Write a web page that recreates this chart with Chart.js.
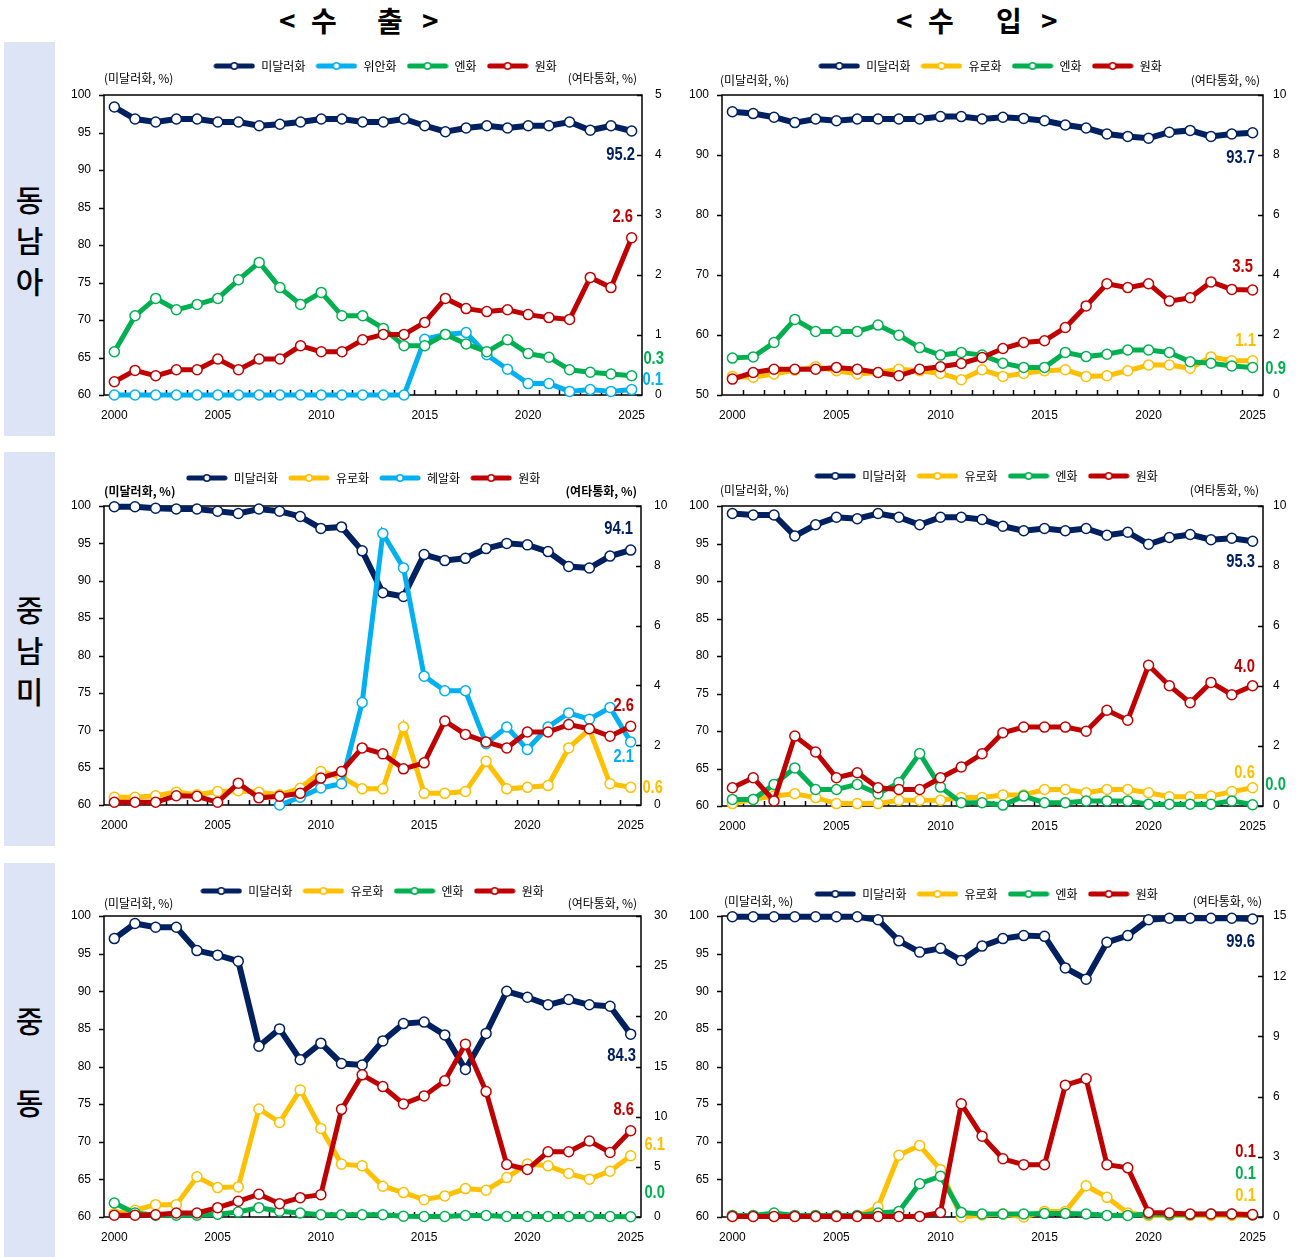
<!DOCTYPE html>
<html>
<head>
<meta charset="utf-8">
<script src="https://cdn.jsdelivr.net/npm/chart.js@4.4.1/dist/chart.umd.min.js"></script>
<style>
  body { margin: 0; width: 1302px; height: 1257px; background: #fff; position: relative; overflow: hidden; }
  .hd { position: absolute; top: 2px; font: bold 28px 'Noto Sans CJK KR', sans-serif; line-height: 36px; color: #000; }
  .side { position: absolute; left: 4px; width: 51px; background: #dde4f5; display: flex; align-items: center; justify-content: center;
          font: 500 30px 'Noto Sans CJK KR', sans-serif; line-height: 41px; text-align: center; color: #000; }
  canvas { position: absolute; }
</style>
</head>
<body>
<span class="hd" style="left:279px">&lt;</span>
<span class="hd" style="left:311px">수</span>
<span class="hd" style="left:377px">출</span>
<span class="hd" style="left:422px">&gt;</span>
<span class="hd" style="left:896px">&lt;</span>
<span class="hd" style="left:928px">수</span>
<span class="hd" style="left:996px">입</span>
<span class="hd" style="left:1041px">&gt;</span>

<div class="side" style="top:42px;height:394px"><div>동<br>남<br>아</div></div>
<div class="side" style="top:452px;height:394px"><div>중<br>남<br>미</div></div>
<div class="side" style="top:863px;height:394px"><div>중<br><br>동</div></div>

<canvas id="c1" width="610" height="390" style="left:60px;top:45px"></canvas>
<canvas id="c2" width="620" height="390" style="left:680px;top:45px"></canvas>
<canvas id="c3" width="610" height="390" style="left:60px;top:456px"></canvas>
<canvas id="c4" width="620" height="390" style="left:680px;top:456px"></canvas>
<canvas id="c5" width="610" height="390" style="left:60px;top:866px"></canvas>
<canvas id="c6" width="620" height="390" style="left:680px;top:866px"></canvas>

<script>
const years = [2000, 2001, 2002, 2003, 2004, 2005, 2006, 2007, 2008, 2009, 2010, 2011, 2012,
  2013, 2014, 2015, 2016, 2017, 2018, 2019, 2020, 2021, 2022, 2023, 2024, 2025];

// 동남아 수출
const seaExpUsd = [98.4, 96.8, 96.4, 96.8, 96.8, 96.4, 96.4, 95.9, 96.1, 96.4, 96.8, 96.8, 96.4, 96.4, 96.8, 95.9, 95.1, 95.6, 95.9, 95.6, 95.9, 95.9, 96.4, 95.3, 95.9, 95.2];
const seaExpCny = [0, 0, 0, 0, 0, 0, 0, 0, 0, 0, 0, 0, 0, 0, 0, 0.93, 1.01, 1.04, 0.67, 0.43, 0.19, 0.19, 0.06, 0.09, 0.06, 0.09];
const seaExpJpy = [0.72, 1.32, 1.61, 1.42, 1.51, 1.61, 1.92, 2.21, 1.79, 1.51, 1.71, 1.32, 1.32, 1.11, 0.82, 0.82, 1.01, 0.85, 0.72, 0.92, 0.69, 0.63, 0.42, 0.38, 0.35, 0.32];
const seaExpKrw = [0.22, 0.41, 0.32, 0.42, 0.42, 0.60, 0.42, 0.60, 0.60, 0.82, 0.72, 0.72, 0.92, 1.01, 1.01, 1.21, 1.61, 1.44, 1.39, 1.42, 1.34, 1.29, 1.26, 1.96, 1.79, 2.62];

// 동남아 수입
const seaImpUsd = [97.2, 96.9, 96.3, 95.4, 96.0, 95.7, 96.0, 96.0, 96.0, 96.0, 96.4, 96.4, 96.0, 96.3, 96.1, 95.7, 95.0, 94.5, 93.5, 93.1, 92.8, 93.8, 94.1, 93.1, 93.5, 93.7];
const seaImpEur = [0.62, 0.59, 0.70, 0.83, 0.94, 0.81, 0.70, 0.75, 0.86, 0.81, 0.72, 0.51, 0.84, 0.62, 0.72, 0.81, 0.84, 0.62, 0.64, 0.81, 1.00, 1.00, 0.89, 1.27, 1.14, 1.14];
const seaImpJpy = [1.23, 1.27, 1.75, 2.52, 2.12, 2.12, 2.12, 2.33, 1.99, 1.58, 1.33, 1.42, 1.33, 1.06, 0.92, 0.92, 1.42, 1.28, 1.36, 1.50, 1.50, 1.42, 1.11, 1.06, 0.97, 0.92];
const seaImpKrw = [0.53, 0.75, 0.86, 0.86, 0.86, 0.92, 0.86, 0.75, 0.64, 0.86, 0.94, 1.05, 1.25, 1.55, 1.75, 1.81, 2.25, 2.97, 3.71, 3.58, 3.71, 3.13, 3.24, 3.77, 3.52, 3.50];

// 중남미 수출
const latExpUsd = [99.9, 99.9, 99.7, 99.6, 99.6, 99.3, 99.0, 99.6, 99.3, 98.6, 97.0, 97.2, 94.0, 88.4, 87.9, 93.5, 92.7, 93.0, 94.3, 95.0, 94.8, 93.9, 91.9, 91.7, 93.3, 94.1];
const latExpEur = [0.26, 0.26, 0.31, 0.43, 0.34, 0.45, 0.48, 0.43, 0.34, 0.56, 1.12, 0.93, 0.54, 0.54, 2.61, 0.39, 0.39, 0.45, 1.46, 0.54, 0.59, 0.65, 1.91, 2.53, 0.71, 0.59];
const latExpBrl = [null, null, null, null, null, null, null, null, 0.0, 0.26, 0.57, 0.71, 3.43, 9.08, 7.93, 4.31, 3.82, 3.82, 2.05, 2.61, 1.86, 2.61, 3.08, 2.87, 3.26, 2.11];
const latExpKrw = [0.09, 0.09, 0.09, 0.31, 0.29, 0.09, 0.73, 0.24, 0.29, 0.39, 0.90, 1.12, 1.91, 1.71, 1.21, 1.41, 2.81, 2.36, 2.11, 1.91, 2.44, 2.44, 2.69, 2.55, 2.30, 2.63];

// 중남미 수입
const latImpUsd = [99.0, 98.8, 98.8, 96.0, 97.5, 98.5, 98.3, 99.0, 98.5, 97.5, 98.5, 98.5, 98.2, 97.3, 96.7, 97.0, 96.7, 97.0, 96.1, 96.5, 94.9, 95.8, 96.2, 95.5, 95.7, 95.3];
const latImpEur = [0.08, 0.22, 0.33, 0.41, 0.28, 0.08, 0.08, 0.08, 0.19, 0.19, 0.19, 0.28, 0.28, 0.37, 0.37, 0.55, 0.55, 0.44, 0.55, 0.55, 0.44, 0.31, 0.31, 0.33, 0.48, 0.61];
const latImpJpy = [0.22, 0.22, 0.72, 1.27, 0.55, 0.55, 0.72, 0.41, 0.78, 1.75, 0.63, 0.11, 0.11, 0.03, 0.33, 0.11, 0.11, 0.17, 0.17, 0.17, 0.06, 0.06, 0.06, 0.06, 0.17, 0.04];
const latImpKrw = [0.61, 0.94, 0.17, 2.33, 1.80, 0.94, 1.11, 0.61, 0.55, 0.55, 0.94, 1.30, 1.74, 2.44, 2.63, 2.63, 2.63, 2.49, 3.19, 2.86, 4.69, 4.01, 3.44, 4.12, 3.71, 4.01];

// 중동 수출
const meExpUsd = [97.0, 99.0, 98.5, 98.5, 95.4, 94.8, 94.0, 82.7, 85.0, 80.9, 83.1, 80.4, 80.2, 83.4, 85.7, 85.9, 84.2, 79.6, 84.4, 90.0, 89.2, 88.2, 88.9, 88.2, 88.0, 84.3];
const meExpEur = [0.33, 0.67, 1.23, 1.23, 4.0, 2.93, 3.0, 10.77, 9.43, 12.67, 8.83, 5.27, 5.1, 3.07, 2.43, 1.73, 2.1, 2.83, 2.67, 3.93, 5.27, 5.1, 4.33, 3.77, 4.57, 6.1];
const meExpJpy = [1.4, 0.4, 0.17, 0.17, 0.17, 0.27, 0.5, 0.93, 0.57, 0.4, 0.23, 0.23, 0.23, 0.23, 0.07, 0.05, 0.05, 0.15, 0.15, 0.05, 0.05, 0.05, 0.05, 0.05, 0.05, 0.03];
const meExpKrw = [0.17, 0.17, 0.23, 0.4, 0.4, 0.93, 1.57, 2.27, 1.33, 1.93, 2.23, 10.73, 14.17, 13.0, 11.27, 12.07, 13.57, 17.23, 12.5, 5.23, 4.73, 6.5, 6.5, 7.57, 6.43, 8.6];

// 중동 수입
const meImpUsd = [99.9, 99.9, 99.9, 99.9, 99.9, 99.9, 99.9, 99.5, 96.7, 95.2, 95.7, 94.1, 96.0, 97.0, 97.4, 97.3, 93.1, 91.6, 96.5, 97.4, 99.5, 99.7, 99.7, 99.7, 99.7, 99.6];
const meImpEur = [0.03, 0.03, 0.03, 0.03, 0.03, 0.03, 0.03, 0.5, 3.08, 3.56, 2.36, 0.0, 0.1, 0.15, 0.0, 0.28, 0.28, 1.56, 0.98, 0.2, 0.08, 0.08, 0.08, 0.08, 0.08, 0.1];
const meImpJpy = [0.08, 0.08, 0.2, 0.08, 0.08, 0.08, 0.08, 0.2, 0.28, 1.66, 2.03, 0.23, 0.15, 0.15, 0.15, 0.17, 0.17, 0.15, 0.08, 0.08, 0.15, 0.12, 0.12, 0.15, 0.15, 0.1];
const meImpKrw = [0.03, 0.03, 0.03, 0.03, 0.03, 0.03, 0.03, 0.03, 0.03, 0.03, 0.23, 5.64, 4.03, 2.9, 2.61, 2.61, 6.57, 6.89, 2.61, 2.45, 0.23, 0.2, 0.15, 0.15, 0.15, 0.12];

const NAVY = '#002060', SKY = '#00b0f0', GREEN = '#00b050', RED = '#c00000', GOLD = '#ffc000';
const TICK_FONT = "'Liberation Sans', sans-serif";
const KR_FONT = "'Noto Sans CJK KR', sans-serif";

function legendIcon(color) {
  const c = document.createElement('canvas');
  c.width = 42; c.height = 12;
  const g = c.getContext('2d');
  g.strokeStyle = color; g.lineWidth = 5; g.lineCap = 'round';
  g.beginPath(); g.moveTo(3, 6); g.lineTo(39, 6); g.stroke();
  g.fillStyle = '#fff'; g.lineWidth = 1.5;
  g.beginPath(); g.arc(21, 6, 3.2, 0, Math.PI * 2); g.fill(); g.stroke();
  return c;
}

// inward x ticks, y ticks, frame, unit captions and end labels
const decor = {
  id: 'decor',
  afterLayout(chart, args, o) {
    chart.legend.left += o.legendDx;
    chart.legend.right += o.legendDx;
  },
  beforeDatasetsDraw(chart, args, o) {
    const { ctx, chartArea: a, scales } = chart;
    ctx.save();
    ctx.strokeStyle = '#000';
    ctx.lineWidth = 1.5;
    ctx.strokeRect(a.left, a.top, a.right - a.left, a.bottom - a.top);
    ctx.beginPath();
    for (let i = 0; i < years.length - 1; i++) {
      const px = Math.round((scales.x.getPixelForValue(i) + scales.x.getPixelForValue(i + 1)) / 2) + 0.5;
      ctx.moveTo(px, a.bottom); ctx.lineTo(px, a.bottom - 5);
    }
    scales.y.ticks.forEach(t => {
      const py = Math.round(scales.y.getPixelForValue(t.value)) + 0.5;
      ctx.moveTo(a.left, py); ctx.lineTo(a.left - 5, py);
    });
    scales.y1.ticks.forEach(t => {
      const py = Math.round(scales.y1.getPixelForValue(t.value)) + 0.5;
      ctx.moveTo(a.right, py); ctx.lineTo(a.right - 5, py);
    });
    ctx.stroke();
    ctx.fillStyle = '#000';
    ctx.font = (o.boldUnits ? 'bold ' : '') + '12px ' + KR_FONT;
    ctx.textBaseline = 'middle';
    ctx.textAlign = 'left';
    ctx.fillText('(미달러화, %)', a.left + o.unitDx[0], a.top + o.unitDy);
    ctx.textAlign = 'right';
    ctx.fillText('(여타통화, %)', a.right + o.unitDx[1], a.top + o.unitDy);
    ctx.restore();
  },
  afterDraw(chart, args, o) {
    const { ctx } = chart;
    chart.data.datasets.forEach((ds, i) => {
      const pts = chart.getDatasetMeta(i).data;
      const last = pts[pts.length - 1];
      const v = ds.data[ds.data.length - 1];
      ctx.save();
      ctx.translate(last.x + o.labelPos[i][0], last.y + o.labelPos[i][1]);
      ctx.scale(0.82, 1);
      ctx.font = 'bold 18px ' + TICK_FONT;
      ctx.textAlign = 'center';
      ctx.textBaseline = 'middle';
      ctx.fillStyle = ds.borderColor;
      ctx.fillText(v.toFixed(1), 0, 0);
      ctx.restore();
    });
  }
};

function makeChart(id, p) {
  const canvas = document.getElementById(id);
  const series = p.series.map((s, i) => ({
    label: s.name,
    data: s.data,
    yAxisID: i === 0 ? 'y' : 'y1',
    borderColor: s.color,
    backgroundColor: '#fff',
    borderWidth: i === 0 ? 6 : 5,
    pointRadius: 5,
    pointBorderWidth: 1.5,
    pointBackgroundColor: '#fff',
    pointBorderColor: s.color,
    tension: 0,
    clip: false,
    order: 3 - i
  }));
  const icons = p.series.map(s => legendIcon(s.color));
  const legendH = p.plotTop - p.canvasTop - p.padTop;
  new Chart(canvas, {
    type: 'line',
    data: { labels: years.map(String), datasets: series },
    plugins: [decor, {
      id: 'legendFit',
      beforeInit(chart) {
        const fit = chart.legend.fit;
        chart.legend.fit = function () { fit.call(this); this.height = legendH; };
      }
    }],
    options: {
      responsive: false,
      animation: false,
      devicePixelRatio: 1,
      layout: { padding: { top: p.padTop, left: 0, right: 0, bottom: 0 } },
      scales: {
        x: {
          offset: true,
          grid: { display: false, drawTicks: false },
          border: { display: false },
          ticks: {
            autoSkip: false, maxRotation: 0, padding: 13, color: '#000',
            font: { family: TICK_FONT, size: 12 },
            callback: (v, i) => (years[i] % 5 === 0 ? years[i] : '')
          },
          afterFit: s => { s.height = p.canvasTop + 390 - p.plotBottom; }
        },
        y: {
          position: 'left', min: p.left[0], max: p.left[1],
          grid: { display: false, drawTicks: false },
          border: { display: false },
          ticks: { stepSize: p.left[2], padding: 13, color: '#000', font: { family: TICK_FONT, size: 12 } },
          afterFit: s => { s.width = p.plotLeft - p.canvasLeft; }
        },
        y1: {
          position: 'right', min: p.right[0], max: p.right[1],
          grid: { display: false, drawTicks: false },
          border: { display: false },
          ticks: { stepSize: p.right[2], padding: p.rightPad, color: '#000', font: { family: TICK_FONT, size: 12 } },
          afterFit: s => { s.width = p.canvasLeft + p.canvasWidth - p.plotRight; }
        }
      },
      plugins: {
        tooltip: { enabled: false },
        legend: {
          position: 'top',
          labels: {
            usePointStyle: true, pointStyleWidth: 42, padding: 10, color: '#000',
            font: { family: KR_FONT, size: 12 },
            sort: (a, b) => a.datasetIndex - b.datasetIndex,
            generateLabels: chart => Chart.defaults.plugins.legend.labels.generateLabels(chart)
              .map(l => Object.assign(l, { pointStyle: icons[l.datasetIndex] }))
          }
        },
        decor: {
          legendDx: p.legendDx, boldUnits: !!p.boldUnits, unitDx: p.unitDx, unitDy: p.unitDy, labelPos: p.labelPos
        }
      }
    }
  });
}

makeChart('c1', {
  canvasLeft: 60, canvasTop: 45, canvasWidth: 610, plotLeft: 104, plotRight: 642, plotTop: 95, plotBottom: 395,
  padTop: 5, legendDx: 20, rightPad: 13, unitDx: [0, -5], unitDy: -17,
  left: [60, 100, 5], right: [0, 5, 1],
  series: [
    { name: '미달러화', data: seaExpUsd, color: NAVY },
    { name: '위안화', data: seaExpCny, color: SKY },
    { name: '엔화', data: seaExpJpy, color: GREEN },
    { name: '원화', data: seaExpKrw, color: RED }
  ],
  labelPos: [[-11, 24], [21, -10], [22, -17], [-9, -21]]
});

makeChart('c2', {
  canvasLeft: 680, canvasTop: 45, canvasWidth: 620, plotLeft: 722, plotRight: 1263, plotTop: 95, plotBottom: 395,
  padTop: 5, legendDx: 0, rightPad: 10, unitDx: [-2, -3], unitDy: -15,
  left: [50, 100, 10], right: [0, 10, 2],
  series: [
    { name: '미달러화', data: seaImpUsd, color: NAVY },
    { name: '유로화', data: seaImpEur, color: GOLD },
    { name: '엔화', data: seaImpJpy, color: GREEN },
    { name: '원화', data: seaImpKrw, color: RED }
  ],
  labelPos: [[-12, 25], [-7, -20], [23, 2], [-10, -23]]
});

makeChart('c3', {
  canvasLeft: 60, canvasTop: 456, canvasWidth: 610, plotLeft: 104, plotRight: 641, plotTop: 506, plotBottom: 805,
  padTop: 6, legendDx: -2, rightPad: 13, unitDx: [0, -4], unitDy: -15, boldUnits: true,
  left: [60, 100, 5], right: [0, 10, 2],
  series: [
    { name: '미달러화', data: latExpUsd, color: NAVY },
    { name: '유로화', data: latExpEur, color: GOLD },
    { name: '헤알화', data: latExpBrl, color: SKY },
    { name: '원화', data: latExpKrw, color: RED }
  ],
  labelPos: [[-12, -21], [22, 1], [-7, 15], [-7, -20]]
});

makeChart('c4', {
  canvasLeft: 680, canvasTop: 456, canvasWidth: 620, plotLeft: 722, plotRight: 1263, plotTop: 506, plotBottom: 806,
  padTop: 4, legendDx: -4, rightPad: 10, unitDx: [-2, -4], unitDy: -16,
  left: [60, 100, 5], right: [0, 10, 2],
  series: [
    { name: '미달러화', data: latImpUsd, color: NAVY },
    { name: '유로화', data: latImpEur, color: GOLD },
    { name: '엔화', data: latImpJpy, color: GREEN },
    { name: '원화', data: latImpKrw, color: RED }
  ],
  labelPos: [[-12, 21], [-8, -15], [23, -20], [-8, -19]]
});

makeChart('c5', {
  canvasLeft: 60, canvasTop: 866, canvasWidth: 610, plotLeft: 104, plotRight: 641, plotTop: 916, plotBottom: 1217,
  padTop: 9, legendDx: 7, rightPad: 13, unitDx: [0, -4], unitDy: -13,
  left: [60, 100, 5], right: [0, 30, 5],
  series: [
    { name: '미달러화', data: meExpUsd, color: NAVY },
    { name: '유로화', data: meExpEur, color: GOLD },
    { name: '엔화', data: meExpJpy, color: GREEN },
    { name: '원화', data: meExpKrw, color: RED }
  ],
  labelPos: [[-9, 22], [24, -11], [24, -24], [-7, -21]]
});

makeChart('c6', {
  canvasLeft: 680, canvasTop: 866, canvasWidth: 620, plotLeft: 722, plotRight: 1263, plotTop: 916, plotBottom: 1217,
  padTop: 12, legendDx: -4, rightPad: 10, unitDx: [2, -1], unitDy: -15,
  left: [60, 100, 5], right: [0, 15, 3],
  series: [
    { name: '미달러화', data: meImpUsd, color: NAVY },
    { name: '유로화', data: meImpEur, color: GOLD },
    { name: '엔화', data: meImpJpy, color: GREEN },
    { name: '원화', data: meImpKrw, color: RED }
  ],
  labelPos: [[-12, 23], [-7, -19], [-7, -41], [-7, -63]]
});
</script>
</body>
</html>
